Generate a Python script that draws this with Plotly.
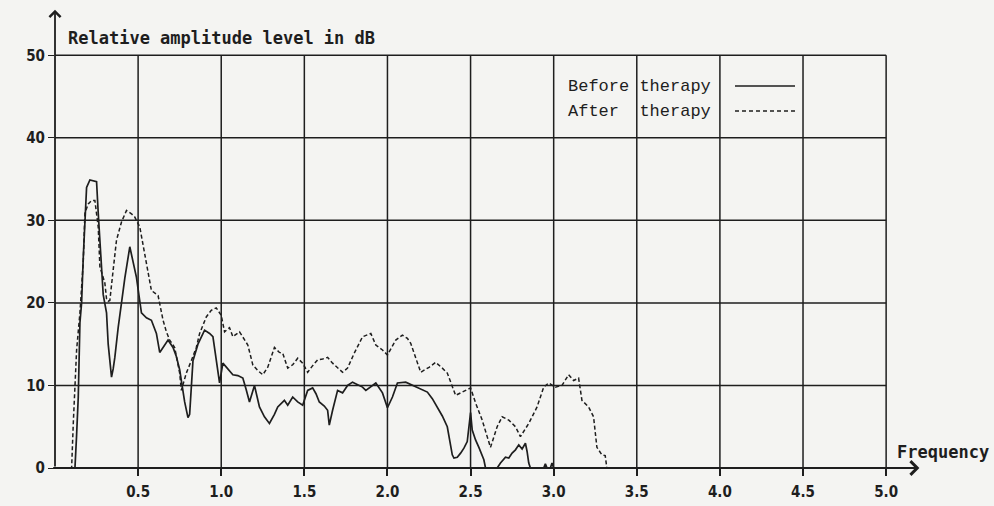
import plotly.graph_objects as go

# ---- data ----
before_f = [0.10, 0.12, 0.13, 0.14, 0.15, 0.16, 0.17, 0.18, 0.19, 0.21, 0.23, 0.25, 0.26, 0.28, 0.29,
            0.31, 0.32, 0.33, 0.34, 0.35, 0.36, 0.38, 0.40, 0.42, 0.45, 0.47, 0.49, 0.52, 0.55, 0.58,
            0.61, 0.63, 0.66, 0.68, 0.71, 0.73, 0.75, 0.78, 0.80, 0.81, 0.83, 0.86, 0.90, 0.93, 0.95,
            0.97, 0.99, 1.01, 1.04, 1.07, 1.10, 1.13, 1.15, 1.17, 1.20, 1.23, 1.26, 1.29, 1.32, 1.34,
            1.38, 1.40, 1.43, 1.46, 1.49, 1.52, 1.55, 1.57, 1.59, 1.62, 1.64, 1.65, 1.67, 1.70, 1.73,
            1.76, 1.79, 1.82, 1.85, 1.87, 1.90, 1.93, 1.97, 2.00, 2.03, 2.06, 2.11, 2.15, 2.18, 2.21,
            2.24, 2.27, 2.30, 2.33, 2.36, 2.38, 2.39, 2.40, 2.42, 2.44, 2.46, 2.48, 2.49, 2.50, 2.51,
            2.53, 2.55, 2.58, 2.59, 2.66, 2.68, 2.71, 2.73, 2.75, 2.77, 2.79, 2.81, 2.83, 2.84, 2.85,
            2.86, 2.94, 2.95, 2.96, 2.98, 2.99, 3.00]
before_db = [0, 0, 4, 8.6, 17.6, 20, 25.5, 30, 34, 34.9, 34.8, 34.7, 30.9, 24.4, 21,
             18.8, 15, 13, 11, 12, 13.4, 17, 20, 23, 26.8, 25, 23.1, 18.8, 18.2, 17.9,
             16.3, 14, 15, 15.5, 14.6, 13.5, 11.9, 8, 6.1, 6.5, 13, 15, 16.7, 16.3, 15.9,
             13, 10.3, 12.7, 12, 11.3, 11.2, 10.9, 9.5, 8, 10, 7.4, 6.2, 5.4, 6.5, 7.4,
             8.2, 7.6, 8.6, 8, 7.6, 9.4, 9.7, 9, 8, 7.5, 7, 5.2, 7, 9.4, 9.1,
             10, 10.4, 10.1, 9.8, 9.4, 9.8, 10.3, 9.1, 7.3, 8.6, 10.3, 10.4, 10, 9.8, 9.4,
             9.2, 8.4, 7.4, 6.3, 5, 2.8, 1.6, 1.2, 1.3, 1.8, 2.4, 3.2, 5, 6.7, 4.6,
             3.4, 2.5, 1, 0, 0, 0.6, 1.3, 1.2, 1.8, 2.2, 2.8, 2.3, 3, 2, 0.6,
             0, 0, 0.5, 0, 0, 0.6, 0]

after_f = [0.09, 0.10, 0.11, 0.13, 0.15, 0.17, 0.18, 0.20, 0.22, 0.24, 0.26, 0.27, 0.30, 0.31, 0.32,
           0.33, 0.35, 0.37, 0.40, 0.43, 0.46, 0.48, 0.51, 0.53, 0.55, 0.58, 0.62, 0.65, 0.67, 0.69,
           0.72, 0.75, 0.76, 0.79, 0.82, 0.85, 0.87, 0.91, 0.94, 0.97, 1.00, 1.02, 1.05, 1.07, 1.11,
           1.14, 1.16, 1.19, 1.22, 1.25, 1.28, 1.32, 1.35, 1.37, 1.40, 1.43, 1.46, 1.49, 1.52, 1.55,
           1.58, 1.61, 1.64, 1.67, 1.70, 1.73, 1.76, 1.80, 1.85, 1.90, 1.93, 1.97, 2.00, 2.05, 2.09,
           2.12, 2.14, 2.17, 2.20, 2.25, 2.29, 2.33, 2.36, 2.41, 2.45, 2.50, 2.53, 2.57, 2.60, 2.62,
           2.66, 2.69, 2.73, 2.77, 2.80, 2.85, 2.90, 2.94, 2.97, 3.01, 3.05, 3.09, 3.12, 3.15, 3.17,
           3.21, 3.24, 3.26, 3.29, 3.31, 3.32]
after_db = [0, 0, 5.4, 14.3, 18.8, 25, 30.9, 32, 32.4, 32.4, 29.2, 24.4, 22.4, 20.5, 20.2,
            20.3, 24, 27.6, 29.8, 31.2, 30.8, 30.4, 29.2, 27, 25.2, 21.5, 20.9, 17.9, 16.5, 15.5,
            14.6, 11.5, 9.4, 11.5, 13, 14.6, 16.3, 18.3, 19.1, 19.4, 18.5, 16.5, 17, 15.9, 16.5,
            15.5, 14.9, 12.5, 11.8, 11.3, 12.2, 14.6, 14, 13.9, 12.1, 12.5, 13.3, 12.7, 11.6, 12.4,
            13.1, 13.2, 13.4, 12.7, 12.2, 11.6, 12.1, 13.9, 15.9, 16.3, 14.9, 14.3, 13.7, 15.5, 16.1,
            15.7, 15.1, 13.4, 11.6, 12.2, 12.8, 12.1, 11.5, 8.8, 9.2, 9.7, 7.9, 5.8, 3.8, 2.5,
            5, 6.2, 5.8, 5, 3.8, 5.4, 7.4, 9.8, 10.3, 9.8, 10, 11.3, 10.6, 10.9, 8.2,
            7.4, 6.2, 2.5, 1.6, 1.5, 0]

x_ticks = [0.5, 1.0, 1.5, 2.0, 2.5, 3.0, 3.5, 4.0, 4.5, 5.0]
x_tick_labels = ["0.5", "1.0", "1.5", "2.0", "2.5", "3.0", "3.5", "4.0", "4.5", "5.0"]
y_ticks = [0, 10, 20, 30, 40, 50]
y_tick_labels = ["0", "10", "20", "30", "40", "50"]
legend_labels = ["Before therapy", "After  therapy"]
y_title = "Relative amplitude level in dB"
x_title = "Frequency"

INK = "#1e1e1e"
BG = "#f4f4f2"
TICKFONT = dict(family="DejaVu Sans Condensed, DejaVu Sans, sans-serif",
                size=15, color=INK, weight="bold")
LABELFONT = dict(family="DejaVu Sans Mono, monospace", size=17, color=INK, weight="bold")
LEGFONT = dict(family="Liberation Mono, Courier New, monospace", size=17, color=INK)

fig = go.Figure()

shapes = []
for xv in x_ticks:
    shapes.append(dict(type="line", xref="x", yref="y", x0=xv, x1=xv, y0=0, y1=50,
                       line=dict(color=INK, width=1.5), layer="below"))
for yv in y_ticks[1:]:
    shapes.append(dict(type="line", xref="x", yref="y", x0=0, x1=5.0, y0=yv, y1=yv,
                       line=dict(color=INK, width=1.5), layer="below"))

fig.add_trace(go.Scatter(x=before_f, y=before_db, mode="lines", name=legend_labels[0],
                         line=dict(color=INK, width=1.7), showlegend=False))
fig.add_trace(go.Scatter(x=after_f, y=after_db, mode="lines", name=legend_labels[1],
                         line=dict(color=INK, width=1.5, dash="4px,2.5px"), showlegend=False))

# legend samples
shapes.append(dict(type="line", xref="paper", yref="paper", x0=(735 - 55) / 881, x1=(795 - 55) / 881,
                   y0=(468 - 86) / 454, y1=(468 - 86) / 454, line=dict(color=INK, width=1.4)))
shapes.append(dict(type="line", xref="paper", yref="paper", x0=(735 - 55) / 881, x1=(795 - 55) / 881,
                   y0=(468 - 111) / 454, y1=(468 - 111) / 454,
                   line=dict(color=INK, width=1.3, dash="4px,3px")))

annotations = [
    dict(xref="paper", yref="paper", x=(566 - 55) / 881, y=(468 - 86) / 454, text=legend_labels[0],
         showarrow=False, xanchor="left", yanchor="middle", font=LEGFONT),
    dict(xref="paper", yref="paper", x=(566 - 55) / 881, y=(468 - 111) / 454, text=legend_labels[1],
         showarrow=False, xanchor="left", yanchor="middle", font=LEGFONT),
    # axis arrows
    dict(x=0, y=55.5, ax=0, ay=0, xref="x", yref="y", axref="x", ayref="y", text="",
         showarrow=True, arrowhead=4, arrowsize=1.2, arrowwidth=1.8, arrowcolor=INK),
    dict(x=5.2, y=0, ax=-0.02, ay=0, xref="x", yref="y", axref="x", ayref="y", text="",
         showarrow=True, arrowhead=4, arrowsize=1.2, arrowwidth=2.2, arrowcolor=INK),
    dict(xref="paper", yref="paper", x=(66 - 55) / 881, y=(468 - 38) / 454,
         text=y_title, showarrow=False, xanchor="left", yanchor="middle", font=LABELFONT),
    dict(xref="paper", yref="paper", x=(895 - 55) / 881, y=(468 - 452) / 454,
         text=x_title, showarrow=False, xanchor="left", yanchor="middle", font=LABELFONT),
]

fig.update_layout(
    width=994, height=506,
    margin=dict(l=55, r=58, t=14, b=38, autoexpand=False),
    paper_bgcolor=BG, plot_bgcolor=BG,
    shapes=shapes, annotations=annotations,
    showlegend=False,
    xaxis=dict(range=[0, 5.3], showgrid=False, zeroline=False, showline=False, automargin=False,
               tickvals=x_ticks, ticktext=x_tick_labels, ticks="outside", ticklen=7,
               tickwidth=1.5, tickcolor=INK, tickfont=TICKFONT, ticklabelstandoff=3,
               fixedrange=True),
    yaxis=dict(range=[0, 55], showgrid=False, zeroline=False, showline=False, automargin=False,
               tickvals=y_ticks, ticktext=y_tick_labels, ticks="outside", ticklen=6,
               tickwidth=1.4, tickcolor=INK, tickfont=TICKFONT, fixedrange=True),
)

fig.write_html("out.html", config={"displayModeBar": False},
               post_script="document.body.style.margin='0';document.body.style.overflow='hidden';")
